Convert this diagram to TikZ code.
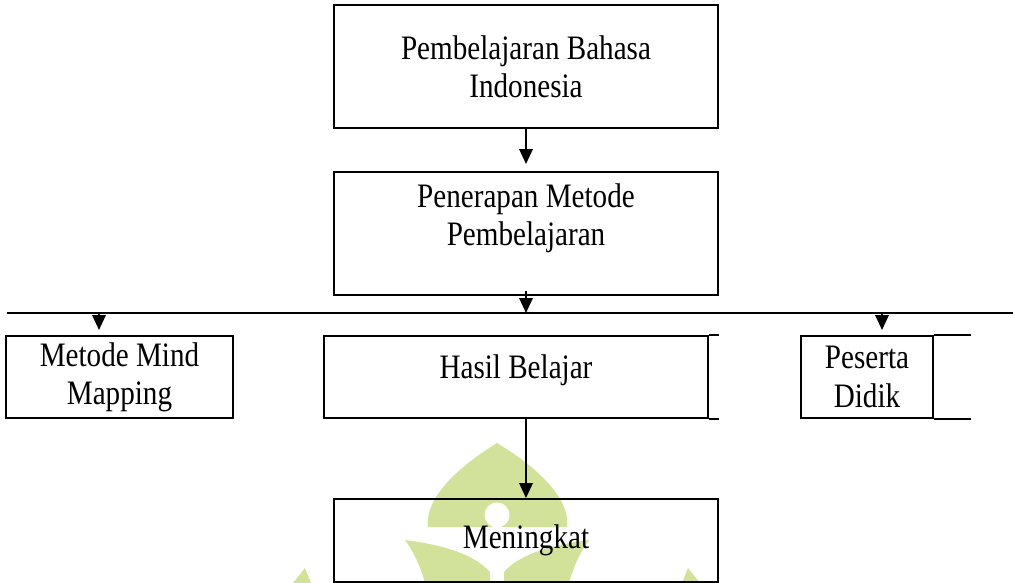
\documentclass[tikz,border=0pt]{standalone}
\usepackage{fontspec}
\setmainfont{Liberation Serif}[FakeStretch=0.85]
\usepackage{tikz}
\usetikzlibrary{arrows.meta, positioning, calc}
\definecolor{framegrey}{HTML}{000000}
\definecolor{watermarkgreen}{HTML}{D3E29B}

\tikzset{
  flowbox/.style={draw=framegrey, line width=1.1pt, align=center, inner sep=0pt,
    font=\fontsize{19.5}{21.8}\selectfont},
  flowarrow/.style={line width=1.1pt, -{Triangle[length=0.3cm, width=0.27cm]}},
  openedge/.style={line width=1.1pt}
}

\begin{document}
\begin{tikzpicture}
  \useasboundingbox (0,0) rectangle (20.26,-11.66);

  % watermark behind the chart
  \fill[watermarkgreen] (9.94,-8.86) .. controls (8.9,-9.5) and (8.5,-10.1) .. (8.56,-10.54)
    -- (11.34,-10.54) .. controls (11.4,-10.1) and (11.0,-9.5) .. (9.94,-8.86);
  \fill[watermarkgreen] (8.1,-10.8) .. controls (8.9,-10.9) and (9.5,-11.1) .. (9.8,-11.44)
    -- (9.8,-11.66) -- (8.5,-11.66) .. controls (8.4,-11.3) and (8.25,-11.0) .. (8.1,-10.8);
  \fill[watermarkgreen] (11.78,-10.8) .. controls (10.98,-10.9) and (10.38,-11.1) .. (10.08,-11.44)
    -- (10.08,-11.66) -- (11.38,-11.66) .. controls (11.48,-11.3) and (11.63,-11.0) .. (11.78,-10.8);
  \fill[watermarkgreen] (5.86,-11.66) -- (6.1,-11.36) -- (6.22,-11.66) -- cycle;
  \fill[watermarkgreen] (14.0,-11.66) -- (13.76,-11.36) -- (13.64,-11.66) -- cycle;
  \fill[white] (9.94,-10.3) circle (0.25);
  \fill[white] (9.86,-10.3) rectangle (10.02,-11.26);

  % main boxes
  \node[flowbox, minimum width=7.68cm, minimum height=2.46cm] (bahasa) at (10.52,-1.33)
    {Pembelajaran Bahasa\\Indonesia};
  \node[flowbox, minimum width=7.68cm, minimum height=2.46cm] (metode) at (10.52,-4.67)
    {Penerapan Metode\\Pembelajaran\\~};

  % dividing line
  \coordinate (lineL) at (0.14,-6.26);
  \coordinate (lineR) at (20.26,-6.26);
  \draw[openedge] (lineL) -- (lineR);

  % lower row
  \node[flowbox, minimum width=4.54cm, minimum height=1.64cm] (mind) at (2.39,-7.54)
    {Metode Mind\\Mapping};
  \node[flowbox, minimum width=7.68cm, minimum height=1.64cm, text depth=0.4cm] (hasil) at (10.32,-7.54)
    {Hasil Belajar};
  \node[flowbox, minimum width=2.64cm, minimum height=1.64cm] (peserta) at (17.34,-7.54)
    {Peserta\\Didik};
  \node[flowbox, minimum width=7.68cm, minimum height=1.66cm] (naik) at (10.52,-10.81)
    {Meningkat};

  % open ends on the right
  \draw[openedge] (hasil.north east) -- ++(0.2,0);
  \draw[openedge] (hasil.south east) -- ++(0.2,0);
  \draw[openedge] (peserta.north east) -- ++(0.74,0);
  \draw[openedge] (peserta.south east) -- ++(0.74,0);

  % arrows
  \coordinate (dropA) at (1.98,-6.26);
  \coordinate (dropB) at (17.64,-6.26);
  \draw[flowarrow] (bahasa.south) -- ([yshift=0.14cm]metode.north);
  \draw[flowarrow] ([yshift=0.1cm]metode.south) -- (metode.south |- lineL);
  \draw[flowarrow] (dropA) -- ([yshift=-0.34cm]dropA);
  \draw[flowarrow] (dropB) -- ([yshift=-0.34cm]dropB);
  \draw[flowarrow] (naik.north |- hasil.south) -- (naik.north);
\end{tikzpicture}
\end{document}
